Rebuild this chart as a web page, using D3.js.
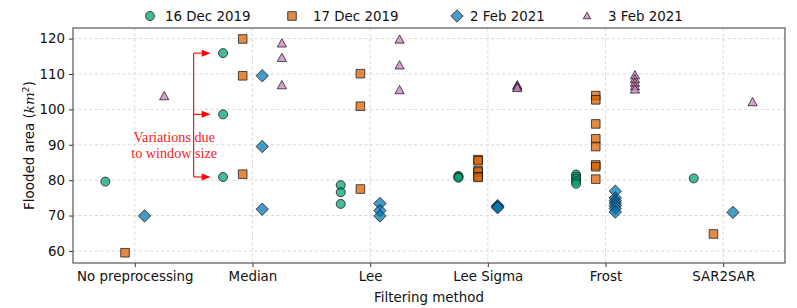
<!DOCTYPE html>
<html>
<head>
<meta charset="utf-8">
<script src="https://cdn.jsdelivr.net/npm/d3@7"></script>
<style>
  body { margin: 0; background: #fff; }
  svg { font-family: "DejaVu Sans", sans-serif; }
</style>
</head>
<body>
<svg id="chart" width="797" height="308"></svg>
<script>
const methods = ["No preprocessing", "Median", "Lee", "Lee Sigma", "Frost", "SAR2SAR"];
const yTicks = [60, 70, 80, 90, 100, 110, 120];

// flooded area per method, one list per acquisition date
const dec16 = [
  [79.6],
  [115.9, 98.6, 80.9],
  [78.6, 76.6, 73.3],
  [81.2, 80.9, 80.7],
  [81.6, 81.0, 80.4, 79.7, 79.0],
  [80.5]
];
const dec17 = [
  [59.5],
  [119.9, 109.5, 81.7],
  [110.1, 100.9, 77.5],
  [85.8, 85.5, 82.7, 82.3, 81.0, 80.8],
  [103.9, 102.7, 95.9, 91.7, 89.5, 84.3, 83.8, 80.3],
  [64.8]
];
const feb02 = [
  [69.9],
  [109.5, 89.5, 71.8],
  [73.4, 71.4, 69.9],
  [72.8, 72.5, 72.2],
  [76.9, 75.0, 74.2, 73.5, 72.8, 72.0, 71.0],
  [70.9]
];
const feb03 = [
  [103.7],
  [118.6, 114.5, 106.8],
  [119.7, 112.4, 105.4],
  [106.8, 106.4, 106.0],
  [109.6, 108.5, 107.5, 106.5, 105.6],
  [102.0]
];

const series = [
  { label: "16 Dec 2019", values: dec16, offset: -0.25, color: "#029e73", shape: "circle" },
  { label: "17 Dec 2019", values: dec17, offset: -0.083, color: "#d55e00", shape: "square" },
  { label: "2 Feb 2021", values: feb02, offset: 0.083, color: "#0173b2", shape: "diamond" },
  { label: "3 Feb 2021", values: feb03, offset: 0.25, color: "#cc78bc", shape: "triangle" }
];

const margin = { top: 28, right: 12, bottom: 45, left: 73 };
const svg = d3.select("#chart");
const width = +svg.attr("width") - margin.left - margin.right;
const height = +svg.attr("height") - margin.top - margin.bottom;

const x = d3.scaleLinear().domain([-0.525, 5.525]).range([0, width]);
const y = d3.scaleLinear().domain([56.6, 123]).range([height, 0]);

const g = svg.append("g").attr("transform", `translate(${margin.left},${margin.top})`);

// grid
g.append("g").selectAll("line.gy")
  .data(yTicks).enter().append("line")
  .attr("x1", 0).attr("x2", width)
  .attr("y1", d => y(d)).attr("y2", d => y(d))
  .attr("stroke", "#d0d0d0").attr("stroke-width", 0.8).attr("stroke-dasharray", "3,2.5");
g.append("g").selectAll("line.gx")
  .data(methods).enter().append("line")
  .attr("x1", (d, i) => x(i)).attr("x2", (d, i) => x(i))
  .attr("y1", 0).attr("y2", height)
  .attr("stroke", "#d0d0d0").attr("stroke-width", 0.8).attr("stroke-dasharray", "3,2.5");

// axes
const xAxis = d3.axisBottom(x).tickValues(d3.range(methods.length))
  .tickFormat(i => methods[i]).tickSize(4).tickPadding(4);
const yAxis = d3.axisLeft(y).tickValues(yTicks).tickSize(4).tickPadding(4);

const gx = g.append("g").attr("transform", `translate(0,${height})`).call(xAxis);
const gy = g.append("g").call(yAxis);
[gx, gy].forEach(a => {
  a.select(".domain").remove();
  a.selectAll("text").attr("font-size", 13.4).attr("fill", "#111")
    .attr("font-family", "DejaVu Sans, sans-serif");
  a.selectAll("line").attr("stroke", "#333");
});

g.append("rect")
  .attr("width", width).attr("height", height)
  .attr("fill", "none").attr("stroke", "#555").attr("stroke-width", 1.2);

// markers
function symbolPath(shape, s) {
  if (shape === "circle") return d3.symbol().type(d3.symbolCircle).size(s * 64)();
  if (shape === "square") return d3.symbol().type(d3.symbolSquare).size(s * 74)();
  if (shape === "diamond") {
    const r = 6.2 * s;
    return `M0,${-r}L${r},0L0,${r}L${-r},0Z`;
  }
  const r = 4.6 * s;
  return `M0,${-r * 1.05}L${r},${r * 0.75}L${-r},${r * 0.75}Z`;
}

series.forEach(sr => {
  const pts = [];
  sr.values.forEach((vals, i) => vals.forEach(v => pts.push({ i, v })));
  g.append("g").selectAll("path")
    .data(pts).enter().append("path")
    .attr("d", symbolPath(sr.shape, 1))
    .attr("transform", d => `translate(${x(d.i + sr.offset)},${y(d.v)})`)
    .attr("fill", sr.color).attr("fill-opacity", 0.72)
    .attr("stroke", "#111").attr("stroke-opacity", 0.72).attr("stroke-width", 1);
});

// annotation
const ann = g.append("g").attr("stroke", "#ff0000").attr("fill", "#ff0000");
const arrowYs = dec16[1];
const lineX = x(0.5), tipX = x(0.645);
ann.append("line")
  .attr("x1", lineX).attr("x2", lineX)
  .attr("y1", y(d3.max(arrowYs))).attr("y2", y(d3.min(arrowYs)))
  .attr("stroke-width", 1.1);
arrowYs.forEach(v => {
  ann.append("line")
    .attr("x1", lineX).attr("x2", tipX - 8)
    .attr("y1", y(v)).attr("y2", y(v)).attr("stroke-width", 1.1);
  ann.append("path")
    .attr("d", `M${tipX},${y(v)}L${tipX - 9},${y(v) - 3.5}L${tipX - 9},${y(v) + 3.5}Z`)
    .attr("stroke", "none");
});
const noteLines = ["Variations due", "to window size"];
g.append("g").selectAll("text")
  .data(noteLines).enter().append("text")
  .attr("x", x(0.335))
  .attr("y", (d, i) => y(90) + (i - 0.5) * 16 + 5)
  .attr("text-anchor", "middle")
  .attr("font-family", "Liberation Serif, serif")
  .attr("font-size", 14.2)
  .attr("fill", "#ff2020")
  .text(d => d);

// axis labels
svg.append("text")
  .attr("x", margin.left + width / 2).attr("y", 302)
  .attr("text-anchor", "middle").attr("font-size", 13.4).attr("fill", "#111")
  .text("Filtering method");

const yl = svg.append("text")
  .attr("transform", `translate(34,${margin.top + height / 2}) rotate(-90)`)
  .attr("text-anchor", "middle").attr("font-size", 13.4).attr("fill", "#111");
yl.append("tspan").text("Flooded area (");
yl.append("tspan").attr("font-style", "italic").attr("font-family", "DejaVu Serif, serif").text("km");
yl.append("tspan").attr("font-size", 9.5).attr("dy", -5).text("2");
yl.append("tspan").attr("dy", 5).text(")");

// legend
const legendX = [150, 292, 457, 587];
const leg = svg.append("g");
series.forEach((sr, k) => {
  const lg = leg.append("g").attr("transform", `translate(${legendX[k]},16)`);
  lg.append("path")
    .attr("d", symbolPath(sr.shape, sr.shape === "triangle" ? 0.8 : 1))
    .attr("fill", sr.color).attr("fill-opacity", 0.72)
    .attr("stroke", "#111").attr("stroke-opacity", 0.72).attr("stroke-width", 1);
  lg.append("text")
    .attr("x", sr.shape === "circle" ? 15 : (sr.shape === "diamond" ? 13 : 21))
    .attr("y", 5)
    .attr("font-size", 13.4).attr("fill", "#111")
    .text(sr.label);
});
</script>
</body>
</html>
